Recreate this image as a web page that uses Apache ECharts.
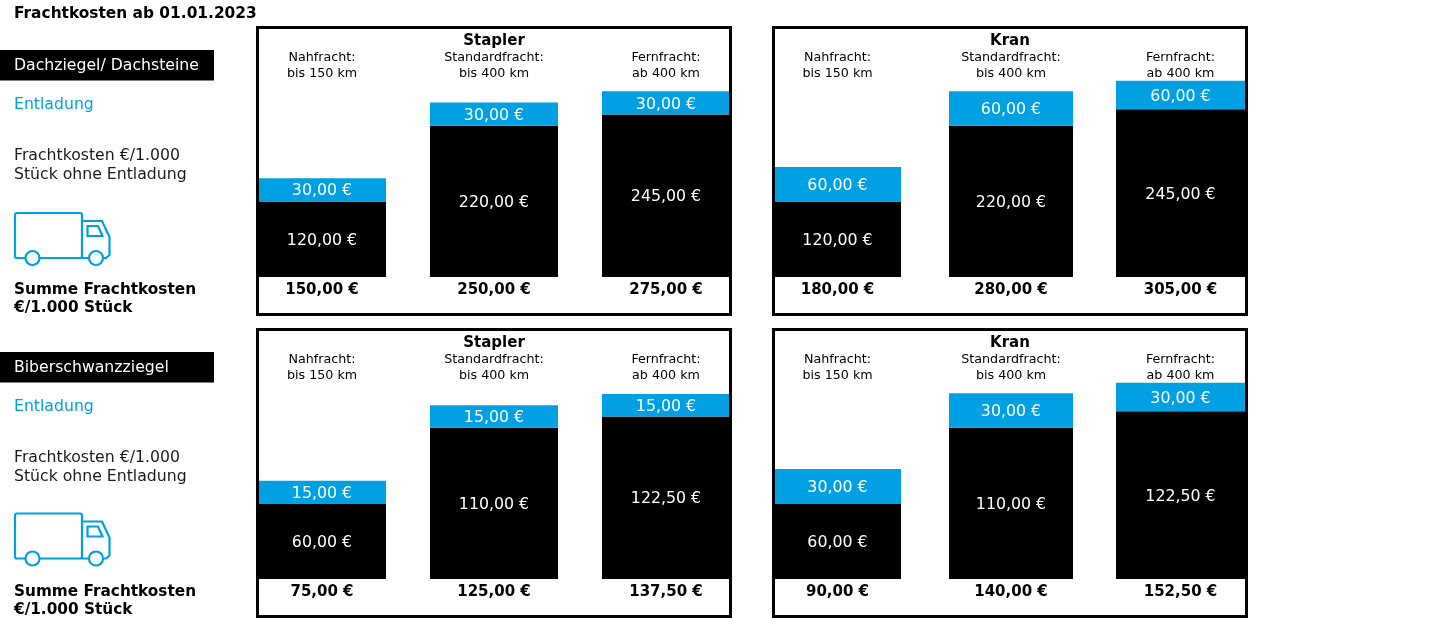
<!DOCTYPE html>
<html><head><meta charset="utf-8">
<style>html,body{margin:0;padding:0;background:#fff}#c{width:1432px;height:630px}</style>
<script src="https://cdn.jsdelivr.net/npm/echarts@6/dist/echarts.min.js"></script>
</head><body><div id="c"></div>
<script>
// Printed amounts (labels in the picture)
const staplerFracht1 = [120, 220, 245];
const staplerEntladung1 = [30, 30, 30];
const staplerSumme1 = [150, 250, 275];
const kranFracht1 = [120, 220, 245];
const kranEntladung1 = [60, 60, 60];
const kranSumme1 = [180, 280, 305];
const staplerFracht2 = [60, 110, 122.5];
const staplerEntladung2 = [15, 15, 15];
const staplerSumme2 = [75, 125, 137.5];
const kranFracht2 = [60, 110, 122.5];
const kranEntladung2 = [30, 30, 30];
const kranSumme2 = [90, 140, 152.5];
// Bar lengths, in axis units: the reference's bars are
// not strictly proportional to their printed amounts.
const staplerFrachtLen1 = [114, 228, 245];
const staplerEntladungLen1 = [35, 35, 35];
const kranFrachtLen1 = [114, 228, 253];
const kranEntladungLen1 = [52, 52, 43];
const staplerFrachtLen2 = [57, 114, 122.5];
const staplerEntladungLen2 = [17, 17, 17];
const kranFrachtLen2 = [57, 114, 126.5];
const kranEntladungLen2 = [26, 26, 21.5];
const headers = ['Nahfracht:\nbis 150 km', 'Standardfracht:\nbis 400 km', 'Fernfracht:\nab 400 km'];

const FONT = '"DejaVu Sans", Verdana, sans-serif';
const BLUE = '#00a0e3';
const eur = v => v.toFixed(2).replace('.', ',') + ' €';

const staplerCols = [[258, 128], [430, 128], [602, 128]];
const kranCols = [[774, 127], [949, 124], [1116, 129]];

const panels = [
  {title:'Stapler', cols:staplerCols, frame:[257.5,730.5], base:277, max:380, f:staplerFracht1, e:staplerEntladung1, s:staplerSumme1, fl:staplerFrachtLen1, el:staplerEntladungLen1},
  {title:'Kran', cols:kranCols, frame:[773.5,1246.5], base:277, max:380, f:kranFracht1, e:kranEntladung1, s:kranSumme1, fl:kranFrachtLen1, el:kranEntladungLen1},
  {title:'Stapler', cols:staplerCols, frame:[257.5,730.5], base:579, max:190, f:staplerFracht2, e:staplerEntladung2, s:staplerSumme2, fl:staplerFrachtLen2, el:staplerEntladungLen2},
  {title:'Kran', cols:kranCols, frame:[773.5,1246.5], base:579, max:190, f:kranFracht2, e:kranEntladung2, s:kranSumme2, fl:kranFrachtLen2, el:kranEntladungLen2}
];

const grid=[], xAxis=[], yAxis=[], series=[], graphic=[];
const segLabel = txt => ({show:true, position:'inside', offset:[0,1.5], formatter:txt, color:'#fff', fontFamily:FONT, fontSize:15.8});

panels.forEach(p => {
  p.cols.forEach((c, i) => {
    const g = grid.length, H = 252;
    grid.push({left:c[0], width:c[1], top:p.base-H, height:H});
    const blank = {axisLine:{show:false}, axisTick:{show:false}, splitLine:{show:false}};
    xAxis.push({type:'category', gridIndex:g, position:'bottom', data:[eur(p.s[i])], ...blank,
      axisLabel:{color:'#000', fontFamily:FONT, fontWeight:'bold', fontSize:15, margin:6, interval:0}});
    xAxis.push({type:'category', gridIndex:g, position:'top', data:[headers[i]], ...blank,
      axisLabel:{inside:true, color:'#000', fontFamily:FONT, fontSize:12.7, lineHeight:16, margin:25, interval:0}});
    yAxis.push({type:'value', gridIndex:g, min:0, max:p.max, show:false});
    const xi = xAxis.length-2;
    series.push({type:'bar', name:'Frachtkosten', stack:'s'+g, xAxisIndex:xi, yAxisIndex:g, barWidth:'100%',
      itemStyle:{color:'#000'}, label:segLabel(eur(p.f[i])), data:[p.fl[i]], silent:true});
    series.push({type:'bar', name:'Entladung', stack:'s'+g, xAxisIndex:xi, yAxisIndex:g, barWidth:'100%',
      itemStyle:{color:BLUE}, label:segLabel(eur(p.e[i])), data:[p.el[i]], silent:true});
  });
  const top = p.base-249.5, bottom = p.base+37.5;
  graphic.push({type:'rect', z:10, shape:{x:p.frame[0], y:top, width:p.frame[1]-p.frame[0], height:bottom-top},
    style:{fill:'none', stroke:'#000', lineWidth:3}});
  graphic.push({type:'text', z:11, x:(p.frame[0]+p.frame[1])/2, y:p.base-235.5,
    style:{text:p.title, fill:'#000', font:'bold 15px '+FONT, textAlign:'center', textVerticalAlign:'middle'}});
});

function leftColumn(dy, band, truckDy){
  const txt = (t, y, fill, font) => graphic.push({type:'text', x:14, y:y+dy,
    style:{text:t, fill, font, textAlign:'left', textVerticalAlign:'middle'}});
  graphic.push({type:'rect', shape:{x:0, y:50+dy, width:214, height:30.5}, style:{fill:'#000'}});
  txt(band, 66, '#fff', '15.7px '+FONT);
  txt('Entladung', 105, BLUE, '15.7px '+FONT);
  txt('Frachtkosten €/1.000', 155.5, '#1a1a1a', '15.7px '+FONT);
  txt('Stück ohne Entladung', 174.5, '#1a1a1a', '15.7px '+FONT);
  txt('Summe Frachtkosten', 290, '#000', 'bold 15.3px '+FONT);
  txt('€/1.000 Stück', 308, '#000', 'bold 15.3px '+FONT);
  const line = {fill:'none', stroke:BLUE, lineWidth:2.2};
  graphic.push({type:'rect', y:truckDy, shape:{x:15, y:213, width:67, height:45, r:2}, style:line});
  graphic.push({type:'polyline', y:truckDy, shape:{points:[[82,221],[102,221],[109.5,237],[109.5,255],[106,258],[82,258]]}, style:line});
  graphic.push({type:'polygon', y:truckDy, shape:{points:[[87.5,226],[98,226],[102.5,236],[87.5,236]]}, style:line});
  graphic.push({type:'circle', y:truckDy, shape:{cx:32.5, cy:258, r:7}, style:{fill:'#fff', stroke:BLUE, lineWidth:2.2}});
  graphic.push({type:'circle', y:truckDy, shape:{cx:96, cy:258, r:7}, style:{fill:'#fff', stroke:BLUE, lineWidth:2.2}});
}
leftColumn(0, 'Dachziegel/ Dachsteine', 0);
leftColumn(302, 'Biberschwanzziegel', 300.5);

const chart = echarts.init(document.getElementById('c'), null, {renderer:'canvas'});
chart.setOption({
  animation:false,
  backgroundColor:'#fff',
  title:{text:'Frachtkosten ab 01.01.2023', left:9, top:1, textStyle:{fontFamily:FONT, fontWeight:'bold', fontSize:15.4, color:'#000'}},
  grid, xAxis, yAxis, series, graphic
});
</script></body></html>
